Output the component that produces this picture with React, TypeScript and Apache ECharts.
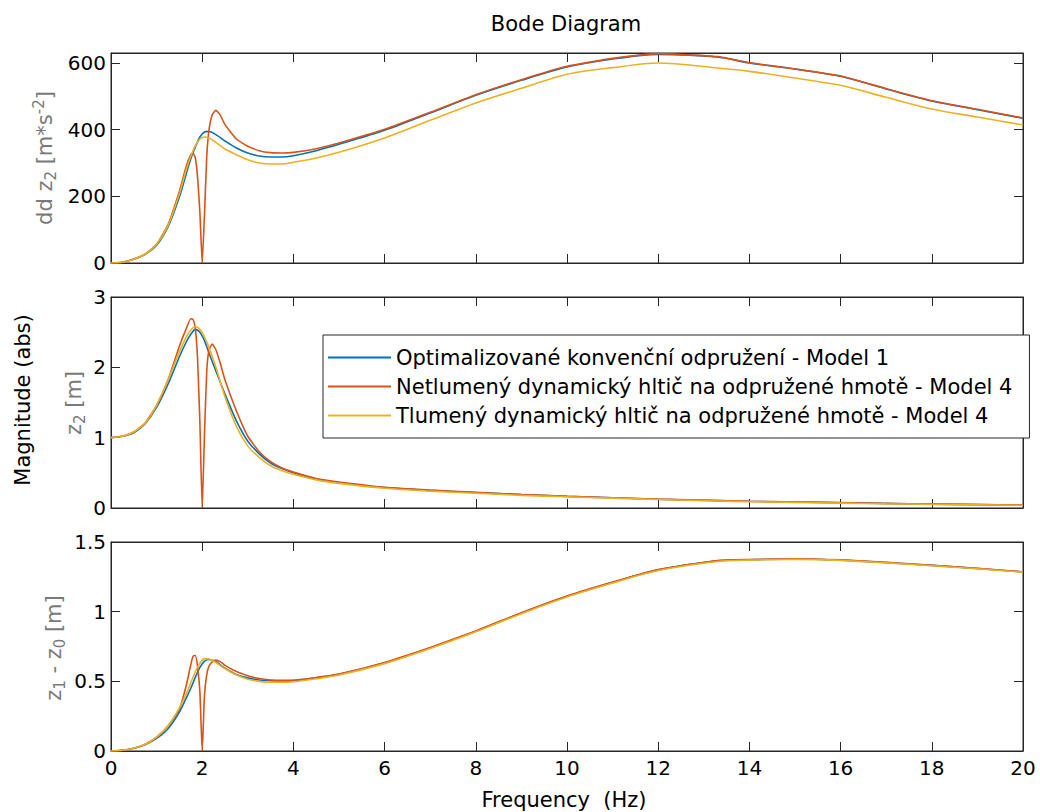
import React, { useEffect, useRef } from "react";
import * as echarts from "echarts";

// ---------- data ----------
const SERIES_NAMES = [
  "Optimalizované konvenční odpružení - Model 1",
  "Netlumený dynamický hltič na odpružené hmotě - Model 4",
  "Tlumený dynamický hltič na odpružené hmotě - Model 4",
];
const COLORS = ["#0072BD", "#D95319", "#EDB120"];

const X_TICKS = { min: 0, max: 20, interval: 2 };

// frequency grid used by models 1 and 4 (damped)
const FREQ = [0, 0.25, 0.5, 0.75, 1, 1.25, 1.5, 1.65, 1.75, 1.85, 1.95, 2.05, 2.15, 2.3, 2.5, 2.75, 3, 3.25, 3.5, 3.75, 4, 4.5, 5, 6, 7, 8, 9, 10, 11, 12, 13.3, 14, 15, 16, 17, 18, 19, 20];
// denser grid for the undamped absorber (notch at 2 Hz)
const FREQ_ORANGE = [0, 0.25, 0.5, 0.75, 1, 1.25, 1.5, 1.65, 1.75, 1.8, 1.85, 1.9, 1.95, 2, 2.05, 2.1, 2.15, 2.22, 2.3, 2.4, 2.5, 2.75, 3, 3.25, 3.5, 3.75, 4, 4.5, 5, 6, 7, 8, 9, 10, 11, 12, 13.3, 14, 15, 16, 17, 18, 19, 20];

// panel 1: dd z2 [m*s^-2]
const ACC_BLUE = [0, 2, 11, 26, 53, 108, 198, 268, 313, 348, 378, 393, 395, 385, 366, 345, 330, 321, 318, 318, 322, 337, 356, 398, 450, 503, 548, 588, 612, 626, 618, 600, 582, 560, 522, 486, 460, 434];
const ACC_ORANGE = [0, 2, 12, 27, 56, 115, 215, 290, 325, 330, 315, 255, 150, 0, 145, 320, 400, 445, 458, 443, 415, 372, 350, 337, 331, 330, 332, 343, 360, 401, 452, 505, 550, 590, 614, 628, 619, 601, 582, 561, 523, 487, 461, 435];
const ACC_YELLOW = [0, 2, 11, 27, 56, 112, 208, 280, 320, 352, 372, 378, 375, 362, 342, 325, 310, 300, 297, 297, 302, 315, 332, 375, 428, 480, 524, 566, 586, 600, 585, 575, 555, 533, 497, 462, 438, 414];

// panel 2: z2 [m]
const Z2_BLUE = [1, 1.02, 1.07, 1.2, 1.43, 1.76, 2.15, 2.36, 2.47, 2.54, 2.5, 2.38, 2.2, 1.95, 1.62, 1.24, 0.95, 0.77, 0.64, 0.56, 0.5, 0.41, 0.36, 0.29, 0.25, 0.22, 0.19, 0.165, 0.145, 0.125, 0.105, 0.095, 0.085, 0.075, 0.065, 0.055, 0.048, 0.04];
const Z2_ORANGE = [1, 1.02, 1.08, 1.21, 1.46, 1.82, 2.3, 2.55, 2.69, 2.68, 2.55, 2.1, 1.2, 0, 1.05, 1.95, 2.25, 2.33, 2.25, 2.05, 1.82, 1.38, 1.02, 0.8, 0.66, 0.57, 0.51, 0.42, 0.37, 0.295, 0.255, 0.222, 0.192, 0.167, 0.146, 0.126, 0.106, 0.096, 0.086, 0.076, 0.066, 0.056, 0.049, 0.041];
const Z2_YELLOW = [1, 1.02, 1.08, 1.21, 1.46, 1.82, 2.22, 2.43, 2.53, 2.58, 2.54, 2.43, 2.28, 2.0, 1.58, 1.16, 0.88, 0.72, 0.6, 0.53, 0.48, 0.4, 0.35, 0.28, 0.24, 0.21, 0.18, 0.16, 0.14, 0.12, 0.1, 0.09, 0.08, 0.07, 0.06, 0.052, 0.045, 0.038];

// panel 3: z1 - z0 [m]
const Z10_BLUE = [0, 0.005, 0.02, 0.045, 0.09, 0.16, 0.28, 0.38, 0.45, 0.53, 0.6, 0.645, 0.657, 0.64, 0.595, 0.55, 0.525, 0.51, 0.505, 0.503, 0.505, 0.525, 0.55, 0.633, 0.74, 0.86, 0.99, 1.11, 1.21, 1.3, 1.365, 1.372, 1.378, 1.37, 1.352, 1.332, 1.31, 1.285];
const Z10_ORANGE = [0, 0.005, 0.02, 0.048, 0.1, 0.18, 0.3, 0.47, 0.62, 0.68, 0.685, 0.6, 0.42, 0, 0.4, 0.55, 0.61, 0.64, 0.652, 0.64, 0.615, 0.57, 0.54, 0.52, 0.51, 0.507, 0.508, 0.527, 0.552, 0.635, 0.742, 0.862, 0.992, 1.112, 1.212, 1.302, 1.367, 1.374, 1.38, 1.372, 1.354, 1.333, 1.311, 1.286];
const Z10_YELLOW = [0, 0.005, 0.02, 0.048, 0.1, 0.18, 0.31, 0.41, 0.49, 0.57, 0.63, 0.663, 0.66, 0.635, 0.59, 0.545, 0.515, 0.5, 0.493, 0.493, 0.497, 0.518, 0.545, 0.627, 0.735, 0.855, 0.985, 1.105, 1.205, 1.295, 1.36, 1.37, 1.375, 1.368, 1.35, 1.33, 1.308, 1.284];

const Y_AXES = [
  { min: 0, max: 630, interval: 200 },
  { min: 0, max: 3, interval: 1 },
  { min: 0, max: 1.5, interval: 0.5 },
];

// ---------- layout ----------
const FONT = "DejaVu Sans";
const AX = "#262626";
const GRIDS = [
  { left: 111, width: 912, top: 53, height: 210 },
  { left: 111, width: 912, top: 297, height: 211 },
  { left: 111, width: 912, top: 542, height: 209 },
];

const zip = (xs: number[], ys: number[]) => xs.map((x, i) => [x, ys[i]]);

export default function App() {
  const ref = useRef<HTMLDivElement>(null);
  useEffect(() => {
    if (!ref.current) return;
    const chart = echarts.init(ref.current, null, { renderer: "svg" });

    const panels = [
      [ACC_BLUE, ACC_ORANGE, ACC_YELLOW],
      [Z2_BLUE, Z2_ORANGE, Z2_YELLOW],
      [Z10_BLUE, Z10_ORANGE, Z10_YELLOW],
    ];

    const xAxis: any[] = [];
    const yAxis: any[] = [];
    const series: any[] = [];
    GRIDS.forEach((_, gi) => {
      const yc = Y_AXES[gi];
      const fmt = (v: number) => {
        const k = Math.round(v / yc.interval);
        return Math.abs(k * yc.interval - v) < 1e-9 ? String(v) : "";
      };
      for (const pos of ["bottom", "top"]) {
        xAxis.push({
          type: "value",
          gridIndex: gi,
          position: pos,
          min: X_TICKS.min,
          max: X_TICKS.max,
          interval: X_TICKS.interval,
          axisLine: { show: true, onZero: false, lineStyle: { color: AX, width: 1 } },
          axisTick: { show: true, inside: true, length: 9, lineStyle: { color: AX } },
          axisLabel: {
            show: pos === "bottom" && gi === 2,
            color: "#000",
            fontFamily: FONT,
            fontSize: 20,
            margin: 7,
          },
          splitLine: { show: false },
        });
      }
      for (const pos of ["left", "right"]) {
        yAxis.push({
          type: "value",
          gridIndex: gi,
          position: pos,
          min: yc.min,
          max: yc.max,
          interval: yc.interval,
          axisLine: { show: true, onZero: false, lineStyle: { color: AX, width: 1 } },
          axisTick: { show: true, inside: true, length: 9, lineStyle: { color: AX } },
          axisLabel: {
            show: pos === "left",
            color: "#000",
            fontFamily: FONT,
            fontSize: 20,
            margin: 5,
            formatter: fmt,
          },
          splitLine: { show: false },
        });
      }
      panels[gi].forEach((vals, si) => {
        series.push({
          type: "line",
          name: SERIES_NAMES[si],
          xAxisIndex: gi * 2,
          yAxisIndex: gi * 2,
          data: zip(si === 1 ? FREQ_ORANGE : FREQ, vals),
          symbol: "none",
          showSymbol: false,
          smooth: si === 1 ? 0.15 : 0.3,
          lineStyle: { color: COLORS[si], width: 1.6 },
          itemStyle: { color: COLORS[si] },
          z: 2 + si,
        });
      });
    });

    const rotText = (x: number, y: number, text: string, color: string, rich: any = {}) => ({
      type: "text",
      x,
      y,
      rotation: Math.PI / 2,
      style: {
        text,
        align: "center",
        verticalAlign: "middle",
        fill: color,
        fontFamily: FONT,
        fontSize: 21,
        rich,
      },
    });

    const gray = "#7a7a7a";
    const richFor = (color: string) => ({
      a: { fontFamily: FONT, fontSize: 21, lineHeight: 27, fill: color, color, verticalAlign: "middle" },
      s: { fontFamily: FONT, fontSize: 15, lineHeight: 27, fill: color, color, verticalAlign: "bottom" },
      p: { fontFamily: FONT, fontSize: 15, lineHeight: 27, fill: color, color, verticalAlign: "top" },
    });

    chart.setOption({
      animation: false,
      backgroundColor: "#ffffff",
      grid: GRIDS.map((g) => ({
        ...g,
        show: true,
        borderColor: AX,
        borderWidth: 1,
        backgroundColor: "transparent",
        containLabel: false,
      })),
      xAxis,
      yAxis,
      series,
      legend: {
        data: SERIES_NAMES.map((name) => ({ name, icon: "rect" })),
        orient: "vertical",
        left: 323,
        top: 335,
        itemWidth: 63,
        itemHeight: 2,
        itemGap: 8,
        padding: [12, 17, 12, 5],
        backgroundColor: "#ffffff",
        borderColor: AX,
        borderWidth: 1,
        borderRadius: 0,
        textStyle: { color: "#000", fontFamily: FONT, fontSize: 21 },
        selectedMode: false,
        z: 10,
      },
      graphic: [
        {
          type: "text",
          x: 566,
          y: 24,
          style: {
            text: "Bode Diagram",
            align: "center",
            verticalAlign: "middle",
            fill: "#000",
            fontFamily: FONT,
            fontSize: 21,
          },
        },
        {
          type: "text",
          x: 564,
          y: 800,
          style: {
            text: "Frequency  (Hz)",
            align: "center",
            verticalAlign: "middle",
            fill: "#000",
            fontFamily: FONT,
            fontSize: 21,
          },
        },
        rotText(23, 400, "Magnitude (abs)", "#000"),
        rotText(45, 158, "{a|dd z}{s|2}{a| [m*s}{p|-2}{a|]}", gray, richFor(gray)),
        rotText(74, 403, "{a|z}{s|2}{a| [m]}", gray, richFor(gray)),
        rotText(54, 648, "{a|z}{s|1}{a| - z}{s|0}{a| [m]}", gray, richFor(gray)),
      ],
    });
    return () => chart.dispose();
  }, []);
  return (
    <div
      ref={ref}
      style={{ position: "fixed", left: 0, top: 0, width: 1040, height: 812, background: "#fff" }}
    />
  );
}
